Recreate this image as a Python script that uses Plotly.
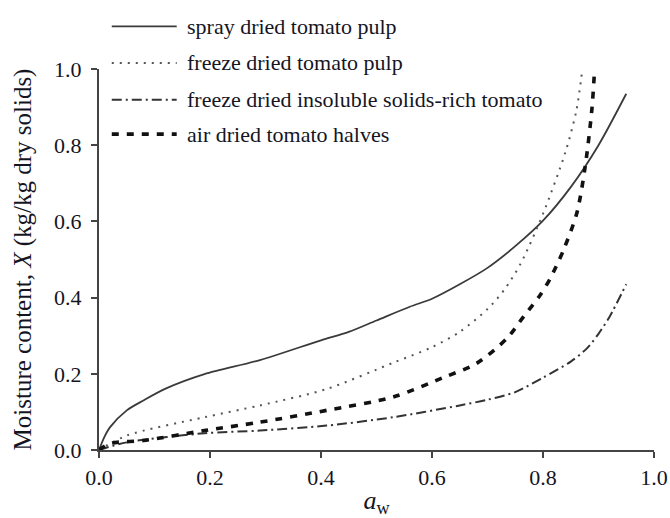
import plotly.graph_objects as go

# ---- data ----
series_names = [
    "spray dried tomato pulp",
    "freeze dried tomato pulp",
    "freeze dried insoluble solids-rich tomato",
    "air dried tomato halves",
]

spray_aw = [0, 0.01, 0.02, 0.05, 0.08, 0.12, 0.19, 0.29, 0.40, 0.45, 0.50, 0.56, 0.60, 0.65, 0.70, 0.75, 0.80, 0.85, 0.90, 0.95]
spray_x = [0, 0.035, 0.06, 0.104, 0.13, 0.161, 0.199, 0.236, 0.288, 0.31, 0.34, 0.376, 0.397, 0.435, 0.478, 0.535, 0.602, 0.69, 0.80, 0.935]

freeze_aw = [0, 0.05, 0.19, 0.29, 0.41, 0.53, 0.60, 0.65, 0.70, 0.73, 0.76, 0.80, 0.84, 0.86, 0.871]
freeze_x = [0, 0.038, 0.086, 0.117, 0.16, 0.229, 0.27, 0.31, 0.37, 0.42, 0.49, 0.62, 0.78, 0.89, 1.0]

insol_aw = [0, 0.05, 0.19, 0.29, 0.41, 0.53, 0.65, 0.70, 0.75, 0.80, 0.85, 0.88, 0.90, 0.92, 0.95]
insol_x = [0, 0.02, 0.044, 0.051, 0.064, 0.086, 0.117, 0.132, 0.152, 0.19, 0.232, 0.268, 0.305, 0.35, 0.435]

air_aw = [0, 0.02, 0.08, 0.19, 0.29, 0.41, 0.53, 0.62, 0.68, 0.735, 0.765, 0.795, 0.813, 0.837, 0.861, 0.876, 0.888, 0.893]
air_x = [0, 0.017, 0.025, 0.051, 0.073, 0.104, 0.139, 0.19, 0.227, 0.293, 0.35, 0.407, 0.45, 0.525, 0.622, 0.744, 0.893, 1.0]

tick_vals = [0.0, 0.2, 0.4, 0.6, 0.8, 1.0]
tick_text = ["0.0", "0.2", "0.4", "0.6", "0.8", "1.0"]

FONT = "Times New Roman, Liberation Serif, Tinos, DejaVu Serif, serif"
TXT = "#15151f"
AX = "#444444"

styles = [
    dict(color="#3a3a3a", width=1.8, dash="solid"),
    dict(color="#555555", width=2.0, dash="2px,6px"),
    dict(color="#333333", width=2.0, dash="10px,4px,2px,4px"),
    dict(color="#111111", width=3.6, dash="7px,8px"),
]
data = [(spray_aw, spray_x), (freeze_aw, freeze_x), (insol_aw, insol_x), (air_aw, air_x)]

fig = go.Figure()
for name, (xs, ys), st in zip(series_names, data, styles):
    fig.add_trace(go.Scatter(
        x=xs, y=ys, mode="lines", name=name, showlegend=False,
        line=dict(color=st["color"], width=st["width"], dash=st["dash"], shape="spline", smoothing=0.8),
    ))

# manual legend (line samples + labels) at the top-left of the plot
legend_rows = [1.112, 1.016, 0.919, 0.829]
for name, st, yy in zip(series_names, styles, legend_rows):
    fig.add_shape(type="line", xref="paper", yref="paper",
                  x0=0.023, x1=0.14, y0=yy, y1=yy,
                  line=dict(color=st["color"], width=st["width"], dash=st["dash"]))
    fig.add_annotation(xref="paper", yref="paper", x=0.155, y=yy, text=name,
                       showarrow=False, xanchor="left", yanchor="middle",
                       font=dict(family=FONT, size=22, color=TXT))

axis_common = dict(
    range=[0, 1], tickvals=tick_vals, ticktext=tick_text,
    showline=True, linecolor=AX, linewidth=2,
    ticks="outside", ticklen=6, tickwidth=2, tickcolor=AX,
    showgrid=False, zeroline=False, automargin=False,
    tickfont=dict(family=FONT, size=22, color=TXT),
)

fig.update_layout(
    width=670, height=518,
    margin=dict(l=99, r=16, t=69, b=68),
    paper_bgcolor="white", plot_bgcolor="white",
    showlegend=False,
    font=dict(family=FONT, color=TXT),
    xaxis=dict(**axis_common, ticklabelstandoff=1,
               title=dict(text="<i>a</i><sub>w</sub>", standoff=16,
                          font=dict(family=FONT, size=26, color=TXT))),
    yaxis=dict(**axis_common, ticklabelstandoff=5,
               title=dict(text="Moisture content, <i>X</i> (kg/kg dry solids)", standoff=15,
                          font=dict(family=FONT, size=25, color=TXT))),
)

fig.write_html("out.html")
